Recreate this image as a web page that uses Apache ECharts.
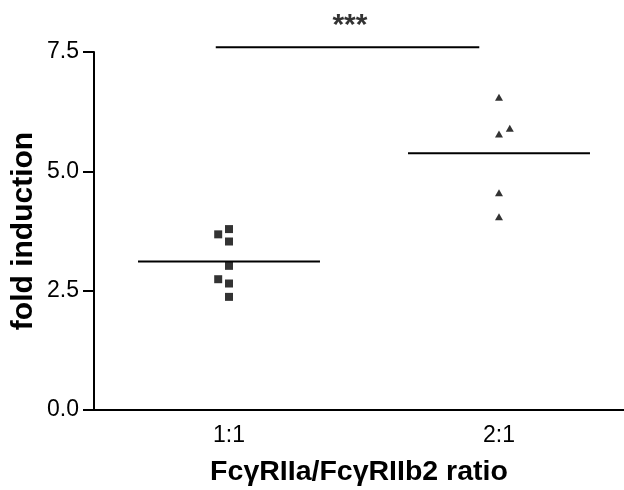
<!DOCTYPE html>
<html>
<head>
<meta charset="utf-8">
<script src="https://cdn.jsdelivr.net/npm/echarts@6/dist/echarts.min.js"></script>
<style>html,body{margin:0;padding:0;background:#fff}#c{width:624px;height:490px}</style>
</head>
<body>
<div id="c"></div>
<script>
// ---- data ----
const categories = ['1:1', '2:1'];
const values11 = [3.79, 3.68, 3.53, 3.02, 2.74, 2.65, 2.37];
const jitter11 = [0, -0.04, 0, 0, -0.04, 0, 0];
const values21 = [6.55, 5.90, 5.78, 4.55, 4.05];
const jitter21 = [0, 0.04, 0, 0, 0];
const means = [3.11, 5.38];
const yTicks = [0, 2.5, 5.0, 7.5];
const sigLevel = 7.6;
const sigFrom = 0.951, sigTo = 1.927;
const sigText = '***';

const FONT = 'Liberation Sans, Arial, sans-serif';
const pts = (vals, jit, ci) => vals.map((v, i) => [ci + 1 + jit[i], v]);
const meanHalf = 0.337;
const meanSeries = means.map((m, ci) => ({
  type: 'line', data: [[ci + 1 - meanHalf, m], [ci + 1 + meanHalf, m]],
  symbol: 'none', lineStyle: { color: '#000', width: 2 }, silent: true, z: 1
}));

const chart = echarts.init(document.getElementById('c'), null, { renderer: 'canvas' });
chart.setOption({
  animation: false,
  backgroundColor: '#fff',
  grid: { left: 94, right: 0, top: 52, bottom: 80, containLabel: false, outerBoundsMode: 'none' },
  xAxis: {
    type: 'value', min: 0.5, max: 2.463, interval: 0.5,
    splitLine: { show: false },
    axisTick: { show: false },
    axisLine: { show: true, onZero: false, lineStyle: { color: '#000', width: 2 } },
    axisLabel: {
      color: '#000', fontFamily: FONT, fontSize: 23, margin: 14,
      showMinLabel: true, showMaxLabel: false,
      formatter: v => (Math.abs(v - Math.round(v)) < 1e-6 && v >= 1 && v <= categories.length) ? categories[Math.round(v) - 1] : ''
    },
    name: 'FcγRIIa/FcγRIIb2 ratio', nameLocation: 'middle', nameGap: 48, nameMoveOverlap: false,
    nameTextStyle: { color: '#000', fontFamily: FONT, fontSize: 28.5, fontWeight: 'bold' }
  },
  yAxis: {
    type: 'value', min: yTicks[0], max: yTicks[yTicks.length - 1], interval: 2.5,
    splitLine: { show: false },
    axisLine: { show: true, onZero: false, lineStyle: { color: '#000', width: 2 } },
    axisTick: { show: true, length: 11, lineStyle: { color: '#000', width: 2 } },
    axisLabel: { color: '#000', fontFamily: FONT, fontSize: 23, margin: 15, formatter: v => v.toFixed(1) },
    name: 'fold induction', nameLocation: 'middle', nameGap: 55, nameRotate: 90, nameMoveOverlap: false,
    nameTextStyle: { color: '#000', fontFamily: FONT, fontSize: 30, fontWeight: 'bold' }
  },
  series: [
    { type: 'scatter', data: pts(values11, jitter11, 0), symbol: 'rect', symbolSize: 8,
      itemStyle: { color: '#000' }, z: 3 },
    { type: 'scatter', data: pts(values21, jitter21, 1), symbol: 'triangle', symbolSize: [8, 7],
      itemStyle: { color: '#000' }, z: 3 },
    ...meanSeries,
    { type: 'line', data: [[sigFrom, sigLevel], [sigTo, sigLevel]], symbol: 'none', clip: false,
      lineStyle: { color: '#000', width: 2 }, silent: true },
    { type: 'scatter', data: [[1.448, 8.05]], symbolSize: 1, clip: false,
      itemStyle: { color: 'rgba(0,0,0,0)' },
      label: { show: true, position: 'inside', formatter: sigText, color: '#000', fontFamily: FONT, fontSize: 30, fontWeight: 'bold' } }
  ]
});
</script>
</body>
</html>
